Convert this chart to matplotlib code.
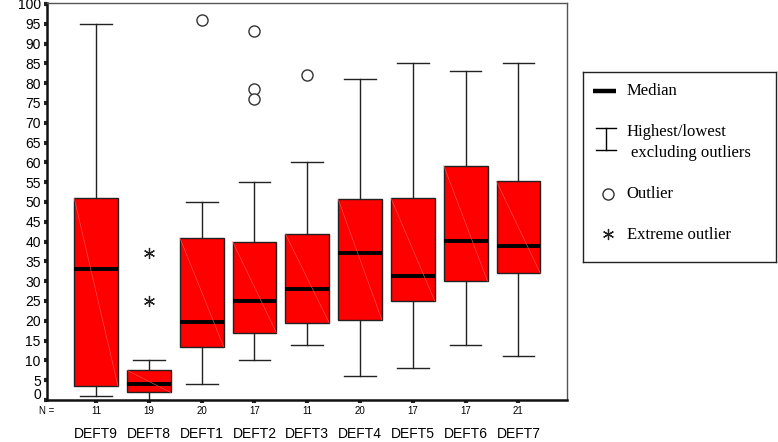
import matplotlib
matplotlib.use("Agg")  # no display
import matplotlib.pyplot as plt
from matplotlib.transforms import ScaledTranslation

# values
categories = ["DEFT9", "DEFT8", "DEFT1", "DEFT2", "DEFT3", "DEFT4", "DEFT5", "DEFT6", "DEFT7"]
counts = [11, 19, 20, 17, 11, 20, 17, 17, 21]
whisker_low = [1, 0, 4, 10, 14, 6, 8, 14, 11]
q1 = [3.5, 1.9, 13.5, 17, 19.5, 20.2, 25, 30, 32]
median = [33, 4, 19.8, 25, 28, 37.2, 31.3, 40.2, 39]
q3 = [51, 7.5, 41, 40, 42, 50.7, 51, 59.2, 55.2]
whisker_high = [95, 10, 50, 55, 60, 81, 85, 83, 85]
outliers = [[], [], [96], [93.3, 78.5, 76], [82], [], [], [], []]
extremes = [[], [37, 25], [], [], [], [], [], [], []]

positions = list(range(len(categories)))
box_width = 0.83

fig = plt.figure(figsize=(7.78, 4.42), dpi=100)
ax = fig.add_axes([47 / 778, 1 - 400 / 442, 520 / 778, 397 / 442])

stats = []
for i in positions:
    stats.append({
        "med": median[i], "q1": q1[i], "q3": q3[i],
        "whislo": whisker_low[i], "whishi": whisker_high[i],
        "fliers": outliers[i],
    })

ax.bxp(
    stats, positions=positions, widths=box_width, capwidths=0.6,
    patch_artist=True, showfliers=True,
    boxprops=dict(facecolor="#ff0000", edgecolor="#222222", linewidth=1.0),
    medianprops=dict(color="black", linewidth=2.8, solid_capstyle="butt"),
    whiskerprops=dict(color="#222222", linewidth=1.0),
    capprops=dict(color="#222222", linewidth=1.0),
    flierprops=dict(marker="o", markersize=8, markerfacecolor="white",
                    markeredgecolor="#333333", markeredgewidth=1.0),
)

# faint diagonal streak inside each box
for i in positions:
    ax.plot([i - box_width / 2, i + box_width / 2], [q3[i], q1[i]],
            color="#ff5a5a", linewidth=0.4, zorder=3)

# extreme outliers
for i in positions:
    for v in extremes[i]:
        ax.plot(i, v, marker=(6, 2, 0), markersize=8, color="#222222",
                markeredgewidth=0.9, linestyle="none")

ax.set_xlim(-0.93, 8.92)
ax.set_ylim(0, 100.25)
ax.set_yticks(range(0, 101, 5))
ax.set_xticks(positions)
ax.set_xticklabels(categories, fontsize=10, family="Liberation Sans")
ax.tick_params(axis="x", length=2.5, width=3, pad=16.8, color="#222222")
ax.tick_params(axis="y", length=2.5, width=3, pad=2, labelsize=10, color="#222222")
for lab in ax.get_yticklabels():
    lab.set_family("Liberation Sans")

# the "0" label sits a bit above the axis bottom
zero_label = ax.get_yticklabels()[0]
zero_label.set_transform(zero_label.get_transform()
                         + ScaledTranslation(0, 5 / 72, fig.dpi_scale_trans))

for side in ["left", "bottom"]:
    ax.spines[side].set_linewidth(1.8)
    ax.spines[side].set_color("#111111")
for side in ["top", "right"]:
    ax.spines[side].set_linewidth(1.0)
    ax.spines[side].set_color("#555555")

# N = row
trans = ax.get_xaxis_transform()
ax.text(0.0, -0.028, "N =", transform=ax.transAxes, ha="center", va="center",
        fontsize=7, family="Liberation Sans")
for i in positions:
    ax.text(i, -0.028, str(counts[i]), transform=trans, ha="center", va="center",
            fontsize=7, family="Liberation Sans")

# hand-made legend box on the right
lg = fig.add_axes([583.3 / 778, 1 - 262 / 442, 193 / 778, 190 / 442])
lg.set_xlim(0, 193)
lg.set_ylim(190, 0)
lg.set_xticks([])
lg.set_yticks([])
for s in lg.spines.values():
    s.set_linewidth(1.0)
    s.set_color("#222222")

serif = "Liberation Serif"
lg.plot([10, 33], [18.6, 18.6], color="black", linewidth=3.2, solid_capstyle="butt")
lg.text(43.4, 18.6, "Median", va="center", fontsize=12, family=serif)

lg.plot([13, 33], [56.3, 56.3], color="black", linewidth=1.0)
lg.plot([13, 33], [78.3, 78.3], color="black", linewidth=1.0)
lg.plot([23, 23], [56.3, 78.3], color="black", linewidth=1.0)
lg.text(43.4, 60, "Highest/lowest", va="center", fontsize=12, family=serif)
lg.text(47.4, 80.6, "excluding outliers", va="center", fontsize=12, family=serif)

lg.plot(24.7, 121.6, marker="o", markersize=8, markerfacecolor="white",
        markeredgecolor="#333333", markeredgewidth=1.0)
lg.text(43.4, 122, "Outlier", va="center", fontsize=12, family=serif)

lg.plot(24.7, 162.3, marker=(6, 2, 0), markersize=8, color="#222222",
        markeredgewidth=0.9)
lg.text(43.4, 163, "Extreme outlier", va="center", fontsize=12, family=serif)

fig.savefig("out.png", dpi=100)
plt.close(fig)
